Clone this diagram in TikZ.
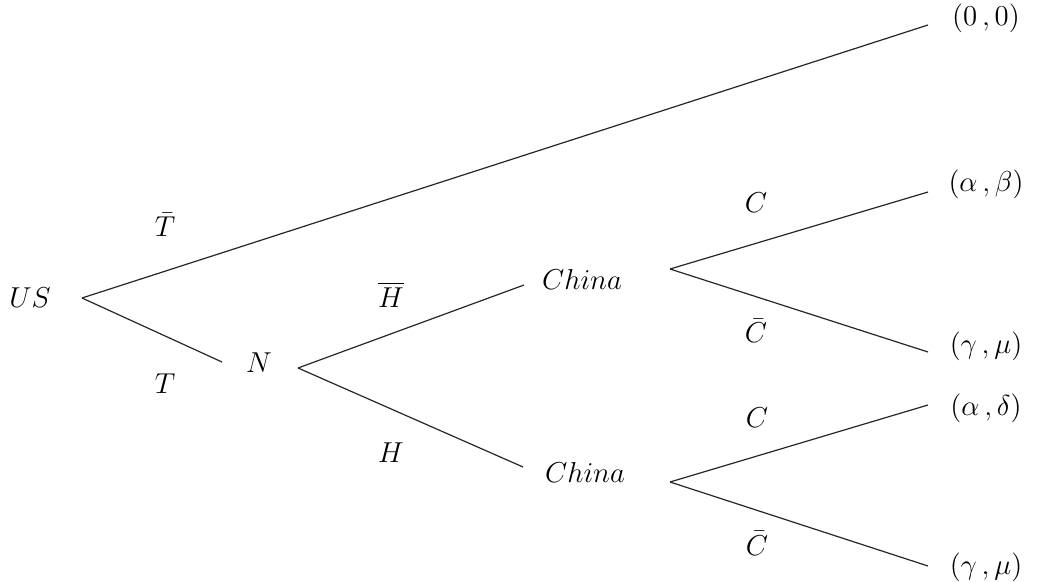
\documentclass[tikz,border=0pt]{standalone}
\usepackage{amsmath,amssymb}
\usetikzlibrary{calc}

\begin{document}
\begin{tikzpicture}[x=0.5pt, y=-0.5pt, every node/.style={font=\fontsize{14.5}{16}\selectfont, anchor=base}]
\tikzset{branch/.style={line width=0.6pt, black!85}}
\useasboundingbox (0,0) rectangle (1037,582);
% --- giocatori ---
\node (US) at (30,307) {$US$};
\node (N) at (259,372) {$N$};
\node (chinaA) at (582,290) {$China$};
\node (chinaB) at (585,482) {$China$};
% --- vertici e fine rami ---
\coordinate (us) at (82,298);
\coordinate (n0) at (222,362);
\coordinate (n) at (298,368);
\coordinate (ca0) at (524,285);
\coordinate (cb0) at (523,467);
\coordinate (ca) at (670,269);
\coordinate (cb) at (670,482);
\coordinate (e1) at (928,25);
\coordinate (e2) at (928,192);
\coordinate (e3) at (928,352);
\coordinate (e4) at (928,405);
\coordinate (e5) at (928,566);
% --- rami ---
\draw[branch] (us) -- (e1);
\draw[branch] (us) -- (n0);
\draw[branch] (n) -- (ca0);
\draw[branch] (n) -- (cb0);
\draw[branch] (ca) -- (e2);
\draw[branch] (ca) -- (e3);
\draw[branch] (cb) -- (e4);
\draw[branch] (cb) -- (e5);
% --- azioni ---
\node (Tbar) at (165,237) {$\bar{T}$};
\node (T) at (165,393) {$T$};
\node (Hbar) at (391,307) {$\overline{H}$};
\node (H) at (391,462) {$H$};
\node (CA) at (756,213) {$C$};
\node (CbarA) at (756,343) {$\bar{C}$};
\node (CB) at (757,427) {$C$};
\node (CbarB) at (757,555) {$\bar{C}$};
% --- payoff ---
\node (p1) at (986,26) {$(0\,,0)$};
\node (p2) at (986,192) {$(\alpha\,,\beta)$};
\node (p3) at (986,353) {$(\gamma\,,\mu)$};
\node (p4) at (986,415) {$(\alpha\,,\delta)$};
\node (p5) at (986,574) {$(\gamma\,,\mu)$};
\end{tikzpicture}
\end{document}
